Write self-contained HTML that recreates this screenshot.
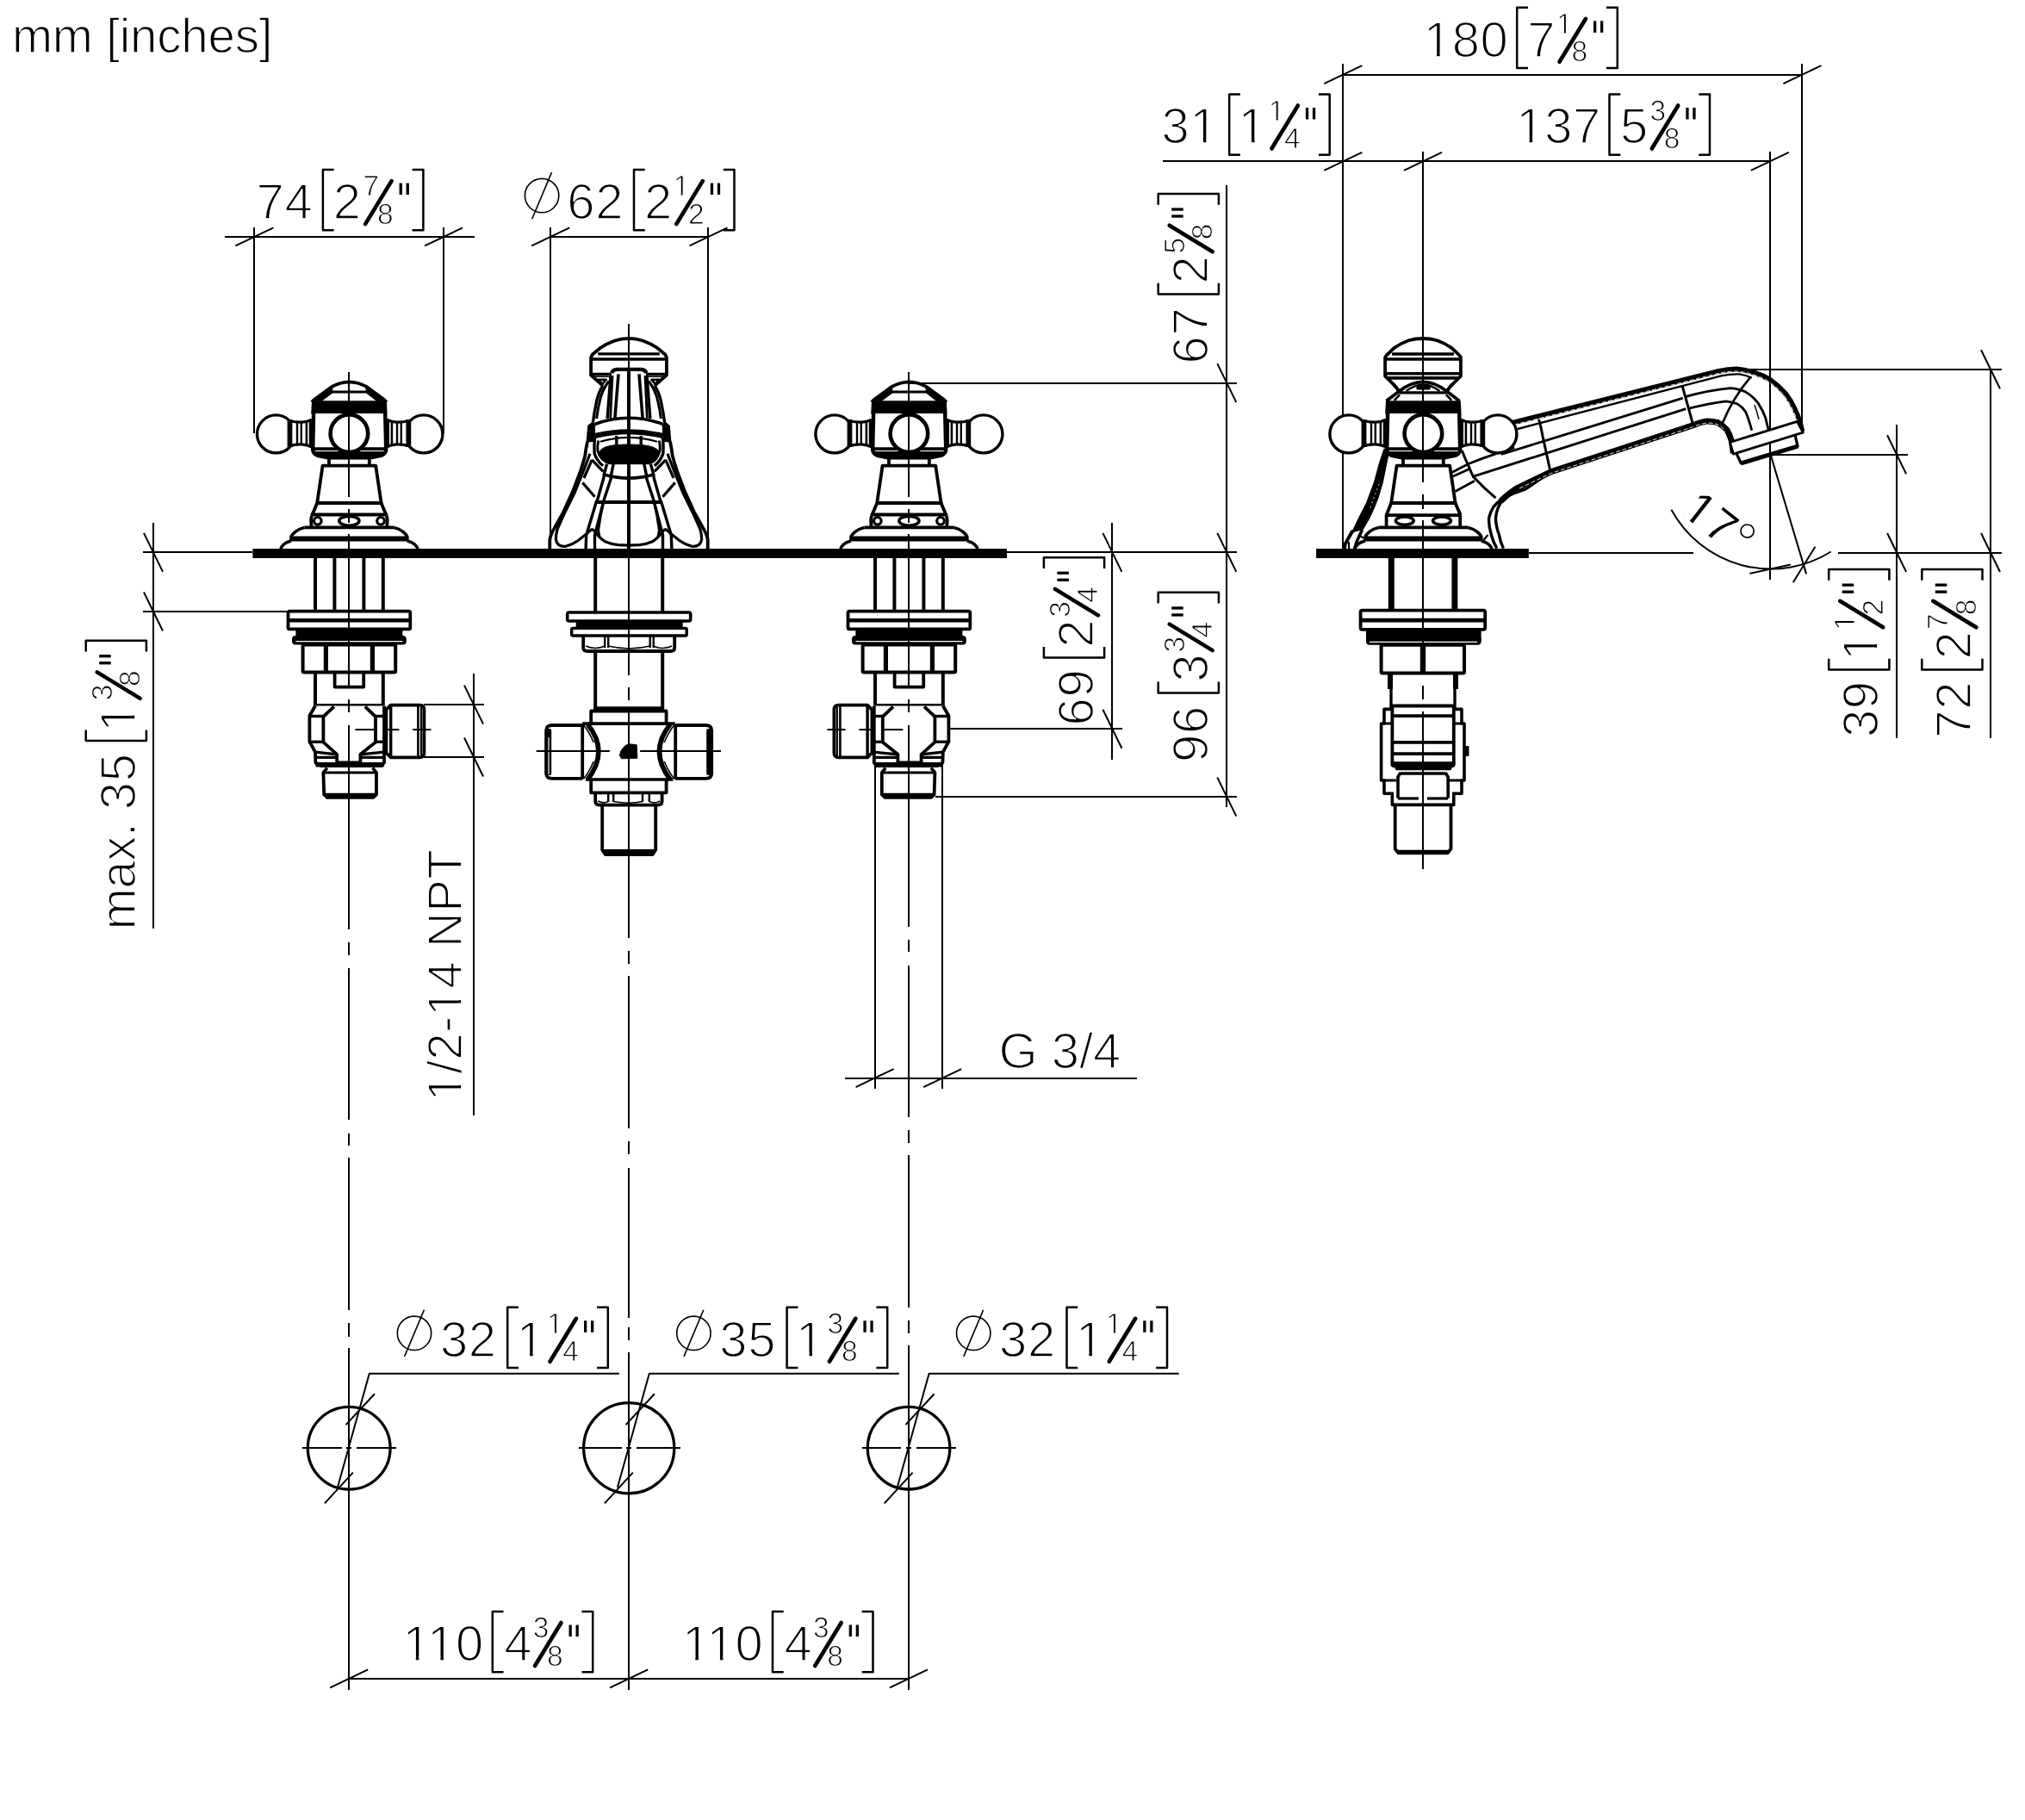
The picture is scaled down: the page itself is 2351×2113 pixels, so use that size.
<!DOCTYPE html><html><head><meta charset="utf-8"><title>drawing</title><style>html,body{margin:0;padding:0;background:#fff}svg{display:block;filter:grayscale(1)}text{font-family:"Liberation Sans",sans-serif;fill:#000;stroke-linejoin:round;text-rendering:geometricPrecision;font-kerning:normal}</style></head><body>
<svg width="2351" height="2113" viewBox="0 0 2351 2113" fill="none" stroke="#000" stroke-linejoin="round">
<rect width="2351" height="2113" fill="#fff" stroke="none"/>
<text x="14" y="61.3" font-size="56.5" letter-spacing="-0.2" stroke="#fff" stroke-width="1.4">mm [inches]</text>
<path d="M261 275L551 275" stroke-width="2"/>
<path d="M273.4 285.4L317.4 264.4" stroke-width="2"/>
<path d="M295 264L295 503" stroke-width="2"/>
<path d="M493.1 285.4L537.1 264.4" stroke-width="2"/>
<path d="M515 264L515 503" stroke-width="2"/>
<text x="297.5" y="253.9" font-size="58" letter-spacing="0.7" stroke="#fff" stroke-width="1.7">74</text>
<path d="M387.6 197.1H374.9V267.3H387.6" stroke-width="2.5"/>
<path d="M478.6 197.1H491.4V267.3H478.6" stroke-width="2.5"/>
<text x="386.8" y="253.9" font-size="58" letter-spacing="0.7" stroke="#fff" stroke-width="1.7">2</text>
<text x="421.4" y="227.1" font-size="33.5" letter-spacing="0" stroke="#fff" stroke-width="1">7</text>
<path d="M424.1 260.1L454.6 210.1" stroke-width="4.6" stroke-linecap="round"/>
<text x="438.1" y="259.6" font-size="33.5" letter-spacing="0" stroke="#fff" stroke-width="1">8</text>
<rect x="463.6" y="212.6" width="3.3" height="13.5" stroke-width="0" fill="#000"/>
<rect x="471.6" y="212.6" width="3.3" height="13.5" stroke-width="0" fill="#000"/>
<path d="M639 275L822 275" stroke-width="2"/>
<path d="M617.2 285.4L661.2 264.4" stroke-width="2"/>
<path d="M639 264L639 637" stroke-width="2"/>
<path d="M800.5 285.4L844.5 264.4" stroke-width="2"/>
<path d="M822 264L822 637" stroke-width="2"/>
<circle cx="629.1" cy="227.1" r="19.7" stroke-width="1.6"/>
<path d="M617.7 254.2L640.5 200.1" stroke-width="1.6"/>
<text x="658.3" y="253.9" font-size="58" letter-spacing="0.7" stroke="#fff" stroke-width="1.7">62</text>
<path d="M748.8 197.1H736V267.3H748.8" stroke-width="2.5"/>
<path d="M839.8 197.1H852.5V267.3H839.8" stroke-width="2.5"/>
<text x="748" y="253.9" font-size="58" letter-spacing="0.7" stroke="#fff" stroke-width="1.7">2</text>
<text x="781.7" y="227.1" font-size="33.5" letter-spacing="0" stroke="#fff" stroke-width="1">1</text>
<rect x="784.1" y="224" width="6.5" height="4.1" stroke-width="0" fill="#fff"/>
<rect x="792.7" y="224" width="6.3" height="4.1" stroke-width="0" fill="#fff"/>
<path d="M785.3 260.1L815.8 210.1" stroke-width="4.6" stroke-linecap="round"/>
<text x="799.1" y="259.6" font-size="33.5" letter-spacing="0" stroke="#fff" stroke-width="1">2</text>
<rect x="824.8" y="212.6" width="3.3" height="13.5" stroke-width="0" fill="#000"/>
<rect x="832.8" y="212.6" width="3.3" height="13.5" stroke-width="0" fill="#000"/>
<path d="M178 607L178 1078" stroke-width="2"/>
<path d="M166 641L293 641" stroke-width="2"/>
<path d="M166 710L334 710" stroke-width="2"/>
<path d="M167 618.9L189 663.9" stroke-width="2"/>
<path d="M167 687.5L189 732.5" stroke-width="2"/>
<g transform="translate(155.7 1074.9) rotate(-90)">
<text x="-4.7" y="0.8" font-size="58" letter-spacing="-0.4" stroke="#fff" stroke-width="1.7">max.</text>
<text x="134.7" y="0.8" font-size="58" letter-spacing="0.7" stroke="#fff" stroke-width="1.7">35</text>
<path d="M227.5 -56H214.8V14.2H227.5" stroke-width="2.5"/>
<path d="M318.5 -56H331.2V14.2H318.5" stroke-width="2.5"/>
<text x="225.2" y="0.8" font-size="58" letter-spacing="0.7" stroke="#fff" stroke-width="1.7">1</text>
<rect x="229.3" y="-4.2" width="11.3" height="6" stroke-width="0" fill="#fff"/>
<rect x="244.2" y="-4.2" width="10.9" height="6" stroke-width="0" fill="#fff"/>
<text x="261.7" y="-26" font-size="33.5" letter-spacing="0" stroke="#fff" stroke-width="1">3</text>
<path d="M264 7L294.5 -43" stroke-width="4.6" stroke-linecap="round"/>
<text x="278" y="6.5" font-size="33.5" letter-spacing="0" stroke="#fff" stroke-width="1">8</text>
<rect x="303.5" y="-40.5" width="3.3" height="13.5" stroke-width="0" fill="#000"/>
<rect x="311.5" y="-40.5" width="3.3" height="13.5" stroke-width="0" fill="#000"/>
</g>
<path d="M550 782L550 1295" stroke-width="2"/>
<path d="M492 818L562 818" stroke-width="2"/>
<path d="M492 879L562 879" stroke-width="2"/>
<path d="M539 795.6L561 840.6" stroke-width="2"/>
<path d="M539 856.5L561 901.5" stroke-width="2"/>
<g transform="translate(535.4 1273.4) rotate(-90)">
<text x="-5.2" y="0.8" font-size="56.5" letter-spacing="0.4" stroke="#fff" stroke-width="1.7">1/2-14 NPT</text>
<rect x="-1.2" y="-4.1" width="11.1" height="5.9" stroke-width="0" fill="#fff"/>
<rect x="13.3" y="-4.1" width="10.7" height="5.9" stroke-width="0" fill="#fff"/>
<rect x="97.8" y="-4.1" width="11.1" height="5.9" stroke-width="0" fill="#fff"/>
<rect x="112.2" y="-4.1" width="10.7" height="5.9" stroke-width="0" fill="#fff"/>
</g>
<path d="M1016 819L1016 1264" stroke-width="2"/>
<path d="M1094 819L1094 1264" stroke-width="2"/>
<path d="M981 1252L1320 1252" stroke-width="2"/>
<path d="M993.6 1262.1L1037.6 1241.1" stroke-width="2"/>
<path d="M1072.2 1262.1L1116.2 1241.1" stroke-width="2"/>
<text x="1159.5" y="1240.1" font-size="58" letter-spacing="0" stroke="#fff" stroke-width="1.7">G 3/4</text>
<path d="M1291 607L1291 882" stroke-width="2"/>
<path d="M1100 846L1303 846" stroke-width="2"/>
<path d="M1280.4 618.9L1302.4 663.9" stroke-width="2"/>
<path d="M1280.4 823.8L1302.4 868.8" stroke-width="2"/>
<g transform="translate(1267.9 838.6) rotate(-90)">
<text x="-3.8" y="0.8" font-size="58" letter-spacing="0.7" stroke="#fff" stroke-width="1.7">69</text>
<path d="M87.7 -56H75V14.2H87.7" stroke-width="2.5"/>
<path d="M178.7 -56H191.4V14.2H178.7" stroke-width="2.5"/>
<text x="86.9" y="0.8" font-size="58" letter-spacing="0.7" stroke="#fff" stroke-width="1.7">2</text>
<text x="121.9" y="-26" font-size="33.5" letter-spacing="0" stroke="#fff" stroke-width="1">3</text>
<path d="M124.2 7L154.7 -43" stroke-width="4.6" stroke-linecap="round"/>
<text x="138.9" y="6.5" font-size="33.5" letter-spacing="0" stroke="#fff" stroke-width="1">4</text>
<rect x="163.7" y="-40.5" width="3.3" height="13.5" stroke-width="0" fill="#000"/>
<rect x="171.7" y="-40.5" width="3.3" height="13.5" stroke-width="0" fill="#000"/>
</g>
<path d="M1424 215L1424 937" stroke-width="2"/>
<path d="M1055 445L1436 445" stroke-width="2"/>
<path d="M1169 641L1436 641" stroke-width="2"/>
<path d="M1086 925L1436 925" stroke-width="2"/>
<path d="M1413.3 422.1L1435.3 467.1" stroke-width="2"/>
<path d="M1413.3 618.9L1435.3 663.9" stroke-width="2"/>
<path d="M1413.3 902.6L1435.3 947.6" stroke-width="2"/>
<g transform="translate(1400.7 881.4) rotate(-90)">
<text x="-3.6" y="0.8" font-size="58" letter-spacing="0.7" stroke="#fff" stroke-width="1.7">96</text>
<path d="M89.8 -56H77V14.2H89.8" stroke-width="2.5"/>
<path d="M180.8 -56H193.6V14.2H180.8" stroke-width="2.5"/>
<text x="89.7" y="0.8" font-size="58" letter-spacing="0.7" stroke="#fff" stroke-width="1.7">3</text>
<text x="124" y="-26" font-size="33.5" letter-spacing="0" stroke="#fff" stroke-width="1">3</text>
<path d="M126.3 7L156.8 -43" stroke-width="4.6" stroke-linecap="round"/>
<text x="141" y="6.5" font-size="33.5" letter-spacing="0" stroke="#fff" stroke-width="1">4</text>
<rect x="165.8" y="-40.5" width="3.3" height="13.5" stroke-width="0" fill="#000"/>
<rect x="173.8" y="-40.5" width="3.3" height="13.5" stroke-width="0" fill="#000"/>
</g>
<g transform="translate(1400.7 418.6) rotate(-90)">
<text x="-3.8" y="0.8" font-size="58" letter-spacing="0.7" stroke="#fff" stroke-width="1.7">67</text>
<path d="M89.9 -56H77.2V14.2H89.9" stroke-width="2.5"/>
<path d="M180.9 -56H193.7V14.2H180.9" stroke-width="2.5"/>
<text x="89.1" y="0.8" font-size="58" letter-spacing="0.7" stroke="#fff" stroke-width="1.7">2</text>
<text x="124.1" y="-26" font-size="33.5" letter-spacing="0" stroke="#fff" stroke-width="1">5</text>
<path d="M126.4 7L156.9 -43" stroke-width="4.6" stroke-linecap="round"/>
<text x="140.4" y="6.5" font-size="33.5" letter-spacing="0" stroke="#fff" stroke-width="1">8</text>
<rect x="165.9" y="-40.5" width="3.3" height="13.5" stroke-width="0" fill="#000"/>
<rect x="173.9" y="-40.5" width="3.3" height="13.5" stroke-width="0" fill="#000"/>
</g>
<path d="M1559 87L2092 87" stroke-width="2"/>
<path d="M1537.3 97.1L1581.3 76.1" stroke-width="2"/>
<path d="M2070.4 97.1L2114.4 76.1" stroke-width="2"/>
<path d="M1559 74L1559 637" stroke-width="2"/>
<path d="M2092 74L2092 500" stroke-width="2"/>
<path d="M1350 187L2055 187" stroke-width="2"/>
<path d="M1537.3 197.9L1581.3 176.9" stroke-width="2"/>
<path d="M1630 197.9L1674 176.9" stroke-width="2"/>
<path d="M2032.8 197.9L2076.8 176.9" stroke-width="2"/>
<path d="M2055 176L2055 673" stroke-width="2"/>
<text x="1652.7" y="65.6" font-size="58" letter-spacing="0.7" stroke="#fff" stroke-width="1.7">180</text>
<rect x="1656.8" y="60.6" width="11.3" height="6" stroke-width="0" fill="#fff"/>
<rect x="1671.7" y="60.6" width="10.9" height="6" stroke-width="0" fill="#fff"/>
<path d="M1774 8.8H1761.2V79H1774" stroke-width="2.5"/>
<path d="M1865 8.8H1877.8V79H1865" stroke-width="2.5"/>
<text x="1773.2" y="65.6" font-size="58" letter-spacing="0.7" stroke="#fff" stroke-width="1.7">7</text>
<text x="1806.9" y="38.8" font-size="33.5" letter-spacing="0" stroke="#fff" stroke-width="1">1</text>
<rect x="1809.3" y="35.7" width="6.5" height="4.1" stroke-width="0" fill="#fff"/>
<rect x="1817.9" y="35.7" width="6.3" height="4.1" stroke-width="0" fill="#fff"/>
<path d="M1810.5 71.8L1841 21.8" stroke-width="4.6" stroke-linecap="round"/>
<text x="1824.5" y="71.3" font-size="33.5" letter-spacing="0" stroke="#fff" stroke-width="1">8</text>
<rect x="1850" y="24.3" width="3.3" height="13.5" stroke-width="0" fill="#000"/>
<rect x="1858" y="24.3" width="3.3" height="13.5" stroke-width="0" fill="#000"/>
<text x="1348.5" y="166.3" font-size="58" letter-spacing="0.7" stroke="#fff" stroke-width="1.7">31</text>
<rect x="1385.6" y="161.3" width="11.3" height="6" stroke-width="0" fill="#fff"/>
<rect x="1400.4" y="161.3" width="10.9" height="6" stroke-width="0" fill="#fff"/>
<path d="M1439.9 109.5H1427.2V179.7H1439.9" stroke-width="2.5"/>
<path d="M1530.9 109.5H1543.7V179.7H1530.9" stroke-width="2.5"/>
<text x="1437.6" y="166.3" font-size="58" letter-spacing="0.7" stroke="#fff" stroke-width="1.7">1</text>
<rect x="1441.7" y="161.3" width="11.3" height="6" stroke-width="0" fill="#fff"/>
<rect x="1456.6" y="161.3" width="10.9" height="6" stroke-width="0" fill="#fff"/>
<text x="1472.8" y="139.5" font-size="33.5" letter-spacing="0" stroke="#fff" stroke-width="1">1</text>
<rect x="1475.2" y="136.4" width="6.5" height="4.1" stroke-width="0" fill="#fff"/>
<rect x="1483.8" y="136.4" width="6.3" height="4.1" stroke-width="0" fill="#fff"/>
<path d="M1476.4 172.5L1506.9 122.5" stroke-width="4.6" stroke-linecap="round"/>
<text x="1491.1" y="172" font-size="33.5" letter-spacing="0" stroke="#fff" stroke-width="1">4</text>
<rect x="1515.9" y="125" width="3.3" height="13.5" stroke-width="0" fill="#000"/>
<rect x="1523.9" y="125" width="3.3" height="13.5" stroke-width="0" fill="#000"/>
<text x="1760.2" y="166.3" font-size="58" letter-spacing="0.7" stroke="#fff" stroke-width="1.7">137</text>
<rect x="1764.3" y="161.3" width="11.3" height="6" stroke-width="0" fill="#fff"/>
<rect x="1779.2" y="161.3" width="10.9" height="6" stroke-width="0" fill="#fff"/>
<path d="M1881.3 109.5H1868.5V179.7H1881.3" stroke-width="2.5"/>
<path d="M1972.3 109.5H1985V179.7H1972.3" stroke-width="2.5"/>
<text x="1881.1" y="166.3" font-size="58" letter-spacing="0.7" stroke="#fff" stroke-width="1.7">5</text>
<text x="1915.5" y="139.5" font-size="33.5" letter-spacing="0" stroke="#fff" stroke-width="1">3</text>
<path d="M1917.8 172.5L1948.3 122.5" stroke-width="4.6" stroke-linecap="round"/>
<text x="1931.8" y="172" font-size="33.5" letter-spacing="0" stroke="#fff" stroke-width="1">8</text>
<rect x="1957.3" y="125" width="3.3" height="13.5" stroke-width="0" fill="#000"/>
<rect x="1965.3" y="125" width="3.3" height="13.5" stroke-width="0" fill="#000"/>
<path d="M2202 493L2202 857" stroke-width="2"/>
<path d="M2311 429L2311 857" stroke-width="2"/>
<path d="M2016 429L2324 429" stroke-width="2"/>
<path d="M2055 528L2215 528" stroke-width="2"/>
<path d="M2134 642L2324 642" stroke-width="2"/>
<path d="M1775 642L1966 642" stroke-width="2"/>
<path d="M2191.1 505.3L2213.1 550.3" stroke-width="2"/>
<path d="M2191.1 619L2213.1 664" stroke-width="2"/>
<path d="M2300 406.3L2322 451.3" stroke-width="2"/>
<path d="M2300 619L2322 664" stroke-width="2"/>
<g transform="translate(2179.2 853) rotate(-90)">
<text x="-3.1" y="0.8" font-size="58" letter-spacing="0.7" stroke="#fff" stroke-width="1.7">39</text>
<path d="M88.2 -56H75.5V14.2H88.2" stroke-width="2.5"/>
<path d="M179.2 -56H191.9V14.2H179.2" stroke-width="2.5"/>
<text x="85.9" y="0.8" font-size="58" letter-spacing="0.7" stroke="#fff" stroke-width="1.7">1</text>
<rect x="90" y="-4.2" width="11.3" height="6" stroke-width="0" fill="#fff"/>
<rect x="104.9" y="-4.2" width="11" height="6" stroke-width="0" fill="#fff"/>
<text x="121.1" y="-26" font-size="33.5" letter-spacing="0" stroke="#fff" stroke-width="1">1</text>
<rect x="123.5" y="-29.1" width="6.5" height="4.1" stroke-width="0" fill="#fff"/>
<rect x="132.1" y="-29.1" width="6.3" height="4.1" stroke-width="0" fill="#fff"/>
<path d="M124.7 7L155.2 -43" stroke-width="4.6" stroke-linecap="round"/>
<text x="138.5" y="6.5" font-size="33.5" letter-spacing="0" stroke="#fff" stroke-width="1">2</text>
<rect x="164.2" y="-40.5" width="3.3" height="13.5" stroke-width="0" fill="#000"/>
<rect x="172.2" y="-40.5" width="3.3" height="13.5" stroke-width="0" fill="#000"/>
</g>
<g transform="translate(2287.3 853) rotate(-90)">
<text x="-3.8" y="0.8" font-size="58" letter-spacing="0.7" stroke="#fff" stroke-width="1.7">72</text>
<path d="M88.2 -56H75.5V14.2H88.2" stroke-width="2.5"/>
<path d="M179.2 -56H191.9V14.2H179.2" stroke-width="2.5"/>
<text x="87.4" y="0.8" font-size="58" letter-spacing="0.7" stroke="#fff" stroke-width="1.7">2</text>
<text x="122" y="-26" font-size="33.5" letter-spacing="0" stroke="#fff" stroke-width="1">7</text>
<path d="M124.7 7L155.2 -43" stroke-width="4.6" stroke-linecap="round"/>
<text x="138.7" y="6.5" font-size="33.5" letter-spacing="0" stroke="#fff" stroke-width="1">8</text>
<rect x="164.2" y="-40.5" width="3.3" height="13.5" stroke-width="0" fill="#000"/>
<rect x="172.2" y="-40.5" width="3.3" height="13.5" stroke-width="0" fill="#000"/>
</g>
<path d="M2056 529.1L2097.1 666.4" stroke-width="2"/>
<path d="M1940.4 591.7A131.5 131.5 0 0 0 2125.7 640.5" stroke-width="2"/>
<path d="M2031.4 665.8L2078.8 655.6" stroke-width="2"/>
<path d="M2081.7 676.3L2107.4 634.8" stroke-width="2"/>
<g transform="translate(1950.9 596.4) rotate(38)">
<text x="0" y="0.2" font-size="54" letter-spacing="1.5" stroke="#fff" stroke-width="0.4">17</text>
<rect x="3.8" y="-4.5" width="10" height="5.7" stroke-width="0" fill="#fff"/>
<rect x="18.2" y="-4.5" width="9.6" height="5.7" stroke-width="0" fill="#fff"/>
</g>
<circle cx="2028.6" cy="616.6" r="7.6" stroke-width="1.7"/>
<circle cx="405.2" cy="1681.2" r="47.9" stroke-width="3.3"/>
<path d="M351 1681L397 1681" stroke-width="2"/>
<path d="M402 1681L408 1681" stroke-width="2"/>
<path d="M414 1681L460 1681" stroke-width="2"/>
<path d="M391.9 1727L428.8 1594.8H718.9" stroke-width="2"/>
<path d="M401.6 1654.1L434.9 1618.3" stroke-width="2"/>
<path d="M376.9 1745.4L409.8 1709.6" stroke-width="2"/>
<circle cx="730.2" cy="1681.2" r="52.6" stroke-width="3.3"/>
<path d="M672 1681L722 1681" stroke-width="2"/>
<path d="M727 1681L733 1681" stroke-width="2"/>
<path d="M739 1681L790 1681" stroke-width="2"/>
<path d="M716.9 1727L753.8 1594.8H1043.9" stroke-width="2"/>
<path d="M726.6 1654.1L759.9 1618.3" stroke-width="2"/>
<path d="M701.9 1745.4L734.8 1709.6" stroke-width="2"/>
<circle cx="1055" cy="1681.2" r="47.8" stroke-width="3.3"/>
<path d="M1001 1681L1046 1681" stroke-width="2"/>
<path d="M1052 1681L1058 1681" stroke-width="2"/>
<path d="M1064 1681L1110 1681" stroke-width="2"/>
<path d="M1041.7 1727L1078.6 1594.8H1368.7" stroke-width="2"/>
<path d="M1051.4 1654.1L1084.7 1618.3" stroke-width="2"/>
<path d="M1026.7 1745.4L1059.6 1709.6" stroke-width="2"/>
<circle cx="481" cy="1547.8" r="19.7" stroke-width="1.6"/>
<path d="M469.6 1574.9L492.4 1520.8" stroke-width="1.6"/>
<text x="510.9" y="1574.6" font-size="58" letter-spacing="0.7" stroke="#fff" stroke-width="1.7">32</text>
<path d="M602 1517.8H589.2V1588H602" stroke-width="2.5"/>
<path d="M693 1517.8H705.8V1588H693" stroke-width="2.5"/>
<text x="599.7" y="1574.6" font-size="58" letter-spacing="0.7" stroke="#fff" stroke-width="1.7">1</text>
<rect x="603.8" y="1569.6" width="11.3" height="6" stroke-width="0" fill="#fff"/>
<rect x="618.7" y="1569.6" width="11" height="6" stroke-width="0" fill="#fff"/>
<text x="634.9" y="1547.8" font-size="33.5" letter-spacing="0" stroke="#fff" stroke-width="1">1</text>
<rect x="637.3" y="1544.7" width="6.5" height="4.1" stroke-width="0" fill="#fff"/>
<rect x="645.9" y="1544.7" width="6.3" height="4.1" stroke-width="0" fill="#fff"/>
<path d="M638.5 1580.8L669 1530.8" stroke-width="4.6" stroke-linecap="round"/>
<text x="653.2" y="1580.3" font-size="33.5" letter-spacing="0" stroke="#fff" stroke-width="1">4</text>
<rect x="678" y="1533.3" width="3.3" height="13.5" stroke-width="0" fill="#000"/>
<rect x="686" y="1533.3" width="3.3" height="13.5" stroke-width="0" fill="#000"/>
<circle cx="805.4" cy="1547.8" r="19.7" stroke-width="1.6"/>
<path d="M794 1574.9L816.8 1520.8" stroke-width="1.6"/>
<text x="835.3" y="1574.6" font-size="58" letter-spacing="0.7" stroke="#fff" stroke-width="1.7">35</text>
<path d="M926.4 1517.8H913.6V1588H926.4" stroke-width="2.5"/>
<path d="M1017.4 1517.8H1030.2V1588H1017.4" stroke-width="2.5"/>
<text x="924.1" y="1574.6" font-size="58" letter-spacing="0.7" stroke="#fff" stroke-width="1.7">1</text>
<rect x="928.2" y="1569.6" width="11.3" height="6" stroke-width="0" fill="#fff"/>
<rect x="943.1" y="1569.6" width="11" height="6" stroke-width="0" fill="#fff"/>
<text x="960.6" y="1547.8" font-size="33.5" letter-spacing="0" stroke="#fff" stroke-width="1">3</text>
<path d="M962.9 1580.8L993.4 1530.8" stroke-width="4.6" stroke-linecap="round"/>
<text x="976.9" y="1580.3" font-size="33.5" letter-spacing="0" stroke="#fff" stroke-width="1">8</text>
<rect x="1002.4" y="1533.3" width="3.3" height="13.5" stroke-width="0" fill="#000"/>
<rect x="1010.4" y="1533.3" width="3.3" height="13.5" stroke-width="0" fill="#000"/>
<circle cx="1130.2" cy="1547.8" r="19.7" stroke-width="1.6"/>
<path d="M1118.8 1574.9L1141.6 1520.8" stroke-width="1.6"/>
<text x="1160.1" y="1574.6" font-size="58" letter-spacing="0.7" stroke="#fff" stroke-width="1.7">32</text>
<path d="M1251.2 1517.8H1238.5V1588H1251.2" stroke-width="2.5"/>
<path d="M1342.2 1517.8H1355V1588H1342.2" stroke-width="2.5"/>
<text x="1248.9" y="1574.6" font-size="58" letter-spacing="0.7" stroke="#fff" stroke-width="1.7">1</text>
<rect x="1253" y="1569.6" width="11.3" height="6" stroke-width="0" fill="#fff"/>
<rect x="1267.9" y="1569.6" width="10.9" height="6" stroke-width="0" fill="#fff"/>
<text x="1284.1" y="1547.8" font-size="33.5" letter-spacing="0" stroke="#fff" stroke-width="1">1</text>
<rect x="1286.5" y="1544.7" width="6.5" height="4.1" stroke-width="0" fill="#fff"/>
<rect x="1295.1" y="1544.7" width="6.3" height="4.1" stroke-width="0" fill="#fff"/>
<path d="M1287.7 1580.8L1318.2 1530.8" stroke-width="4.6" stroke-linecap="round"/>
<text x="1302.4" y="1580.3" font-size="33.5" letter-spacing="0" stroke="#fff" stroke-width="1">4</text>
<rect x="1327.2" y="1533.3" width="3.3" height="13.5" stroke-width="0" fill="#000"/>
<rect x="1335.2" y="1533.3" width="3.3" height="13.5" stroke-width="0" fill="#000"/>
<path d="M405 1949L1055 1949" stroke-width="2"/>
<path d="M383.2 1959.3L427.2 1938.3" stroke-width="2"/>
<path d="M708.2 1959.3L752.2 1938.3" stroke-width="2"/>
<path d="M1033 1959.3L1077 1938.3" stroke-width="2"/>
<text x="467.4" y="1927.8" font-size="58" letter-spacing="0.7" stroke="#fff" stroke-width="1.7">110</text>
<rect x="471.5" y="1922.8" width="11.3" height="6" stroke-width="0" fill="#fff"/>
<rect x="486.4" y="1922.8" width="10.9" height="6" stroke-width="0" fill="#fff"/>
<rect x="500.1" y="1922.8" width="11.3" height="6" stroke-width="0" fill="#fff"/>
<rect x="515" y="1922.8" width="11" height="6" stroke-width="0" fill="#fff"/>
<path d="M584.5 1871H571.8V1941.2H584.5" stroke-width="2.5"/>
<path d="M675.5 1871H688.2V1941.2H675.5" stroke-width="2.5"/>
<text x="585.3" y="1927.8" font-size="58" letter-spacing="0.7" stroke="#fff" stroke-width="1.7">4</text>
<text x="618.7" y="1901" font-size="33.5" letter-spacing="0" stroke="#fff" stroke-width="1">3</text>
<path d="M621 1934L651.5 1884" stroke-width="4.6" stroke-linecap="round"/>
<text x="635" y="1933.5" font-size="33.5" letter-spacing="0" stroke="#fff" stroke-width="1">8</text>
<rect x="660.5" y="1886.5" width="3.3" height="13.5" stroke-width="0" fill="#000"/>
<rect x="668.5" y="1886.5" width="3.3" height="13.5" stroke-width="0" fill="#000"/>
<text x="791.9" y="1927.8" font-size="58" letter-spacing="0.7" stroke="#fff" stroke-width="1.7">110</text>
<rect x="796" y="1922.8" width="11.3" height="6" stroke-width="0" fill="#fff"/>
<rect x="810.9" y="1922.8" width="11" height="6" stroke-width="0" fill="#fff"/>
<rect x="824.6" y="1922.8" width="11.3" height="6" stroke-width="0" fill="#fff"/>
<rect x="839.5" y="1922.8" width="11" height="6" stroke-width="0" fill="#fff"/>
<path d="M909.7 1871H897V1941.2H909.7" stroke-width="2.5"/>
<path d="M1000.7 1871H1013.5V1941.2H1000.7" stroke-width="2.5"/>
<text x="910.5" y="1927.8" font-size="58" letter-spacing="0.7" stroke="#fff" stroke-width="1.7">4</text>
<text x="943.9" y="1901" font-size="33.5" letter-spacing="0" stroke="#fff" stroke-width="1">3</text>
<path d="M946.2 1934L976.7 1884" stroke-width="4.6" stroke-linecap="round"/>
<text x="960.2" y="1933.5" font-size="33.5" letter-spacing="0" stroke="#fff" stroke-width="1">8</text>
<rect x="985.7" y="1886.5" width="3.3" height="13.5" stroke-width="0" fill="#000"/>
<rect x="993.7" y="1886.5" width="3.3" height="13.5" stroke-width="0" fill="#000"/>
<path d="M405 842L405 1079" stroke-width="2"/>
<path d="M405 1094L405 1109" stroke-width="2"/>
<path d="M405 1124L405 1300" stroke-width="2"/>
<path d="M405 1316L405 1330" stroke-width="2"/>
<path d="M405 1344L405 1521" stroke-width="2"/>
<path d="M405 1536L405 1552" stroke-width="2"/>
<path d="M405 1565L405 1962" stroke-width="2"/>
<path d="M730 826L730 1089" stroke-width="2"/>
<path d="M730 1104L730 1119" stroke-width="2"/>
<path d="M730 1133L730 1310" stroke-width="2"/>
<path d="M730 1325L730 1340" stroke-width="2"/>
<path d="M730 1356L730 1530" stroke-width="2"/>
<path d="M730 1541L730 1556" stroke-width="2"/>
<path d="M730 1570L730 1962" stroke-width="2"/>
<path d="M1055 842L1055 1076" stroke-width="2"/>
<path d="M1055 1091L1055 1105" stroke-width="2"/>
<path d="M1055 1121L1055 1297" stroke-width="2"/>
<path d="M1055 1312L1055 1327" stroke-width="2"/>
<path d="M1055 1341L1055 1518" stroke-width="2"/>
<path d="M1055 1533L1055 1548" stroke-width="2"/>
<path d="M1055 1562L1055 1962" stroke-width="2"/>
<g transform="translate(405.4 0)">
<g transform="scale(-1 1)">
<circle cx="84.9" cy="503.9" r="22" stroke-width="3.4" fill="#fff"/>
<rect x="65.6" y="487.3" width="6.2" height="31.7" stroke-width="0" fill="#000"/>
<rect x="44" y="489" width="22" height="28" stroke-width="0" fill="#fff"/>
<path d="M71 488.3Q62 490.4 55 490.2Q49 489.8 43.5 487.2M71 518Q62 515.6 55 515.8Q49 516.2 43.5 518.8" stroke-width="3.2"/>
<path d="M60.4 489.5L60.4 516.5" stroke-width="2.4"/>
<path d="M55.6 489.5L55.6 516.5" stroke-width="2.4"/>
<path d="M49.5 489.5L49.5 516.5" stroke-width="2.6"/>
<rect x="43" y="487.4" width="3.6" height="31.4" stroke-width="0" fill="#000"/>
</g>
<g transform="scale(1 1)">
<circle cx="86.5" cy="503.9" r="22" stroke-width="3.4" fill="#fff"/>
<rect x="65.6" y="487.3" width="6.2" height="31.7" stroke-width="0" fill="#000"/>
<rect x="44" y="489" width="22" height="28" stroke-width="0" fill="#fff"/>
<path d="M71 488.3Q62 490.4 55 490.2Q49 489.8 43.5 487.2M71 518Q62 515.6 55 515.8Q49 516.2 43.5 518.8" stroke-width="3.2"/>
<path d="M60.4 489.5L60.4 516.5" stroke-width="2.4"/>
<path d="M55.6 489.5L55.6 516.5" stroke-width="2.4"/>
<path d="M49.5 489.5L49.5 516.5" stroke-width="2.6"/>
<rect x="43" y="487.4" width="3.6" height="31.4" stroke-width="0" fill="#000"/>
</g>
<path d="M-43.4 467L-41 464.3L-19.5 448.6Q-10 443.6 0 443.4Q10 443.6 19.5 448.6L41 464.3L43.4 467" stroke-width="3.8"/>
<path d="M-33.5 465.5L-19.5 455H20L33.5 465.5" stroke-width="2.8"/>
<path d="M-42.5 465.5L-19.5 449V455L-33.5 465.5ZM42.5 465.5L19.5 449V455L33.5 465.5Z" stroke-width="0.5" fill="#000"/>
<path d="M-43.4 465.3H43.4L44.2 480.5H-44.2Z" stroke-width="0" fill="#000"/>
<path d="M-41.3 480L-42.2 522Q-42 527 -37 528.8L-24.5 531.4H24.5L37 528.8Q42.6 527 42.8 522L41.8 480" stroke-width="4.4" fill="#fff"/>
<path d="M-42 524.6H42.6Q42 527.6 37 529.4L24.5 532.6H-24.5L-37 529.4Q-41.6 527.6 -42 524.6Z" stroke-width="1" fill="#000"/>
<path d="M-41 521.2H41.5" stroke-width="3.8"/>
<circle cx="0" cy="503.2" r="21.8" stroke-width="4.6" fill="#fff"/>
<path d="M-23.4 531L-23.4 540.5" stroke-width="3.8"/>
<path d="M23.4 531L23.4 540.5" stroke-width="3.8"/>
<path d="M-30.8 540.6H30.8L37.2 584H-37.2Z" stroke-width="3.8" fill="#fff"/>
<path d="M-37.2 584L-40.5 592L-43.6 599M37.2 584L40.5 592L43.6 599" stroke-width="3.8"/>
<path d="M-42.5 597.5L42.5 597.5" stroke-width="3.8"/>
<path d="M-43.6 599L-44.3 604L-43.8 612M43.6 599L44.3 604L43.8 612" stroke-width="3.8"/>
<circle cx="-36.6" cy="604.8" r="4.3" stroke-width="3.2"/>
<circle cx="36.6" cy="604.8" r="4.3" stroke-width="3.2"/>
<ellipse cx="0" cy="604.8" rx="11.6" ry="5.4" stroke-width="3.6"/>
<path d="M-52 612.4H52" stroke-width="3.8"/>
<path d="M-52 612.4Q-58 613.6 -62 617Q-66 620 -67.4 623V628M52 612.4Q58 613.6 62 617Q66 620 67.4 623V628" stroke-width="3.6"/>
<path d="M-67.4 625.5L67.4 625.5" stroke-width="6"/>
<path d="M-67.4 628Q-73 629.4 -76 632Q-78.6 634.6 -79.6 637.2M67.4 628Q73 629.4 76 632Q78.6 634.6 79.6 637.2" stroke-width="3.6"/>
</g>
<g transform="translate(1055.4 0)">
<g transform="scale(-1 1)">
<circle cx="86.5" cy="503.9" r="22" stroke-width="3.4" fill="#fff"/>
<rect x="65.6" y="487.3" width="6.2" height="31.7" stroke-width="0" fill="#000"/>
<rect x="44" y="489" width="22" height="28" stroke-width="0" fill="#fff"/>
<path d="M71 488.3Q62 490.4 55 490.2Q49 489.8 43.5 487.2M71 518Q62 515.6 55 515.8Q49 516.2 43.5 518.8" stroke-width="3.2"/>
<path d="M60.4 489.5L60.4 516.5" stroke-width="2.4"/>
<path d="M55.6 489.5L55.6 516.5" stroke-width="2.4"/>
<path d="M49.5 489.5L49.5 516.5" stroke-width="2.6"/>
<rect x="43" y="487.4" width="3.6" height="31.4" stroke-width="0" fill="#000"/>
</g>
<g transform="scale(1 1)">
<circle cx="86.5" cy="503.9" r="22" stroke-width="3.4" fill="#fff"/>
<rect x="65.6" y="487.3" width="6.2" height="31.7" stroke-width="0" fill="#000"/>
<rect x="44" y="489" width="22" height="28" stroke-width="0" fill="#fff"/>
<path d="M71 488.3Q62 490.4 55 490.2Q49 489.8 43.5 487.2M71 518Q62 515.6 55 515.8Q49 516.2 43.5 518.8" stroke-width="3.2"/>
<path d="M60.4 489.5L60.4 516.5" stroke-width="2.4"/>
<path d="M55.6 489.5L55.6 516.5" stroke-width="2.4"/>
<path d="M49.5 489.5L49.5 516.5" stroke-width="2.6"/>
<rect x="43" y="487.4" width="3.6" height="31.4" stroke-width="0" fill="#000"/>
</g>
<path d="M-43.4 467L-41 464.3L-19.5 448.6Q-10 443.6 0 443.4Q10 443.6 19.5 448.6L41 464.3L43.4 467" stroke-width="3.8"/>
<path d="M-33.5 465.5L-19.5 455H20L33.5 465.5" stroke-width="2.8"/>
<path d="M-42.5 465.5L-19.5 449V455L-33.5 465.5ZM42.5 465.5L19.5 449V455L33.5 465.5Z" stroke-width="0.5" fill="#000"/>
<path d="M-43.4 465.3H43.4L44.2 480.5H-44.2Z" stroke-width="0" fill="#000"/>
<path d="M-41.3 480L-42.2 522Q-42 527 -37 528.8L-24.5 531.4H24.5L37 528.8Q42.6 527 42.8 522L41.8 480" stroke-width="4.4" fill="#fff"/>
<path d="M-42 524.6H42.6Q42 527.6 37 529.4L24.5 532.6H-24.5L-37 529.4Q-41.6 527.6 -42 524.6Z" stroke-width="1" fill="#000"/>
<path d="M-41 521.2H41.5" stroke-width="3.8"/>
<circle cx="0" cy="503.2" r="21.8" stroke-width="4.6" fill="#fff"/>
<path d="M-23.4 531L-23.4 540.5" stroke-width="3.8"/>
<path d="M23.4 531L23.4 540.5" stroke-width="3.8"/>
<path d="M-30.8 540.6H30.8L37.2 584H-37.2Z" stroke-width="3.8" fill="#fff"/>
<path d="M-37.2 584L-40.5 592L-43.6 599M37.2 584L40.5 592L43.6 599" stroke-width="3.8"/>
<path d="M-42.5 597.5L42.5 597.5" stroke-width="3.8"/>
<path d="M-43.6 599L-44.3 604L-43.8 612M43.6 599L44.3 604L43.8 612" stroke-width="3.8"/>
<circle cx="-36.6" cy="604.8" r="4.3" stroke-width="3.2"/>
<circle cx="36.6" cy="604.8" r="4.3" stroke-width="3.2"/>
<ellipse cx="0" cy="604.8" rx="11.6" ry="5.4" stroke-width="3.6"/>
<path d="M-52 612.4H52" stroke-width="3.8"/>
<path d="M-52 612.4Q-58 613.6 -62 617Q-66 620 -67.4 623V628M52 612.4Q58 613.6 62 617Q66 620 67.4 623V628" stroke-width="3.6"/>
<path d="M-67.4 625.5L67.4 625.5" stroke-width="6"/>
<path d="M-67.4 628Q-73 629.4 -76 632Q-78.6 634.6 -79.6 637.2M67.4 628Q73 629.4 76 632Q78.6 634.6 79.6 637.2" stroke-width="3.6"/>
</g>
<g transform="translate(730 0)">
<g transform="scale(-1 1)">
<path d="M0 392.8Q9 392.8 16.8 395.7Q26 399 32.8 403.8L42.4 411.7L43.9 415V435.5L30 447.8" stroke-width="3.8"/>
<path d="M35.4 440.9H26.4L30.7 446Z" stroke-width="2.6"/>
<path d="M30 447.8Q34.5 454 37.2 465Q40 478 41.6 490.4" stroke-width="3.4"/>
<path d="M23.1 442.5Q29 450 32.6 461Q36 474 37.4 486" stroke-width="3"/>
<path d="M21 436L24.9 486" stroke-width="3.4"/>
<path d="M19 436L21.3 485.6" stroke-width="2.8"/>
<path d="M12 434.3L16.1 485.6" stroke-width="3.6"/>
<path d="M42 490.4L46.8 494.4L48.4 512.6L40.4 512L39.8 494Z" stroke-width="2" fill="#000"/>
<path d="M39.5 508.2Q40.5 518 39.8 526.7Q37 535 29.8 540.8" stroke-width="3.4"/>
<path d="M35.2 511.5Q36.8 518 36 523.5Q34 530 29.8 534.3" stroke-width="3"/>
<path d="M14.2 506L14.2 516" stroke-width="3.4"/>
<path d="M25.4 538.7L28.7 550.6L29.2 555L36.3 580L37.9 583.2L49.3 621.2L49.9 637" stroke-width="3.4"/>
<path d="M17.8 538.7L20.5 551.7V555L28.7 580L29.8 584.3L39.5 621.2V637" stroke-width="3.4"/>
<path d="M42.8 533.8L29.8 547.4M52 555L42.8 533.8M53.7 560.4L39.5 576.7" stroke-width="3.2"/>
<path d="M48 512.6Q50 522 50.7 528.9Q53 538 56.2 547.4L64.9 570.2L75.7 594.1L86.6 613.6Q91 621 91.7 626.7V637" stroke-width="3.8"/>
<path d="M45 526.7L53.7 549.5L63.4 573.4L74.3 595.2L83 614.7Q84.8 621 84.6 626.7Q83.6 630.5 81.9 632.1Q78 635 73.2 634.3Q65 632 59.1 627.7L49.3 620.1Q45.5 616 42.8 614.7Q41 615 39.5 616.9L35.2 622.3Q31.5 626 27.6 628.8Q20 632 12.4 632.6L0 633.2" stroke-width="3.2"/>
<path d="M29.8 584.3Q33.5 600 35.4 615.8L34.1 623" stroke-width="3"/>
</g>
<g transform="scale(1 1)">
<path d="M0 392.8Q9 392.8 16.8 395.7Q26 399 32.8 403.8L42.4 411.7L43.9 415V435.5L30 447.8" stroke-width="3.8"/>
<path d="M35.4 440.9H26.4L30.7 446Z" stroke-width="2.6"/>
<path d="M30 447.8Q34.5 454 37.2 465Q40 478 41.6 490.4" stroke-width="3.4"/>
<path d="M23.1 442.5Q29 450 32.6 461Q36 474 37.4 486" stroke-width="3"/>
<path d="M21 436L24.9 486" stroke-width="3.4"/>
<path d="M19 436L21.3 485.6" stroke-width="2.8"/>
<path d="M12 434.3L16.1 485.6" stroke-width="3.6"/>
<path d="M42 490.4L46.8 494.4L48.4 512.6L40.4 512L39.8 494Z" stroke-width="2" fill="#000"/>
<path d="M39.5 508.2Q40.5 518 39.8 526.7Q37 535 29.8 540.8" stroke-width="3.4"/>
<path d="M35.2 511.5Q36.8 518 36 523.5Q34 530 29.8 534.3" stroke-width="3"/>
<path d="M14.2 506L14.2 516" stroke-width="3.4"/>
<path d="M25.4 538.7L28.7 550.6L29.2 555L36.3 580L37.9 583.2L49.3 621.2L49.9 637" stroke-width="3.4"/>
<path d="M17.8 538.7L20.5 551.7V555L28.7 580L29.8 584.3L39.5 621.2V637" stroke-width="3.4"/>
<path d="M42.8 533.8L29.8 547.4M52 555L42.8 533.8M53.7 560.4L39.5 576.7" stroke-width="3.2"/>
<path d="M48 512.6Q50 522 50.7 528.9Q53 538 56.2 547.4L64.9 570.2L75.7 594.1L86.6 613.6Q91 621 91.7 626.7V637" stroke-width="3.8"/>
<path d="M45 526.7L53.7 549.5L63.4 573.4L74.3 595.2L83 614.7Q84.8 621 84.6 626.7Q83.6 630.5 81.9 632.1Q78 635 73.2 634.3Q65 632 59.1 627.7L49.3 620.1Q45.5 616 42.8 614.7Q41 615 39.5 616.9L35.2 622.3Q31.5 626 27.6 628.8Q20 632 12.4 632.6L0 633.2" stroke-width="3.2"/>
<path d="M29.8 584.3Q33.5 600 35.4 615.8L34.1 623" stroke-width="3"/>
</g>
<path d="M-35.8 410.8L35.8 410.8" stroke-width="3.2"/>
<path d="M-43.5 417L43.5 417" stroke-width="3.6"/>
<path d="M-42 434.5H-20M20 434.5H42" stroke-width="3.4"/>
<path d="M-43 437.2H-21M21 437.2H43" stroke-width="1.4"/>
<path d="M-20 433Q-18.5 429 -14 428.9H14.5Q19 429 20.4 433" stroke-width="4.4"/>
<path d="M-39.6 492.5Q0 478 39.6 492.5" stroke-width="3.6"/>
<path d="M-39.6 506Q0 496.4 39.6 506" stroke-width="6"/>
<path d="M-33 512.8Q0 503 33 512.8" stroke-width="2.2"/>
<path d="M-34.2 526Q-33 518 -14 516.4Q0 515.5 14 516.4Q34 518 35.4 526Q34 536 24 538.7H-23Q-33 536 -34.2 526Z" stroke-width="1" fill="#000"/>
<path d="M-27.6 551.2Q0 559 27.8 551.2" stroke-width="3.6"/>
<path d="M-38.5 583L38.7 583" stroke-width="3.8"/>
<path d="M0 431L0 637" stroke-width="4"/>
</g>
<g transform="translate(405.4 0) scale(1 1)">
<path d="M-39.4 648L-39.4 709" stroke-width="4"/>
<path d="M-17 648L-17 709" stroke-width="4"/>
<path d="M17 648L17 709" stroke-width="4"/>
<path d="M39.4 648L39.4 709" stroke-width="4"/>
<rect x="-70.9" y="709.6" width="141.8" height="20.8" stroke-width="3.8" rx="2" fill="#fff"/>
<path d="M-70 720.2L70 720.2" stroke-width="4.6"/>
<rect x="-62" y="730.8" width="124" height="12.6" stroke-width="0" fill="#000"/>
<rect x="-66.4" y="738" width="132.8" height="10.6" stroke-width="0" rx="4" fill="#000"/>
<path d="M-62 744.6H62" stroke-width="1.2" stroke="#fff"/>
<rect x="-53.8" y="748.6" width="107.6" height="32" stroke-width="4" rx="1.5" fill="#fff"/>
<path d="M-27 749L-27 780" stroke-width="5.2"/>
<path d="M27 749L27 780" stroke-width="5.2"/>
<path d="M-39.4 781L-39.4 819" stroke-width="4"/>
<path d="M39.4 781L39.4 819" stroke-width="4"/>
<path d="M-16.8 781V797.6H16.8V781" stroke-width="3.8"/>
<path d="M-39.4 818.8L39.4 818.8" stroke-width="3.8"/>
<path d="M-39.4 819.5L-46 831V861L-39.4 873.2L-39 885.5L-32.5 889H37.5L40.6 885.5V819.5" stroke-width="3.8" fill="#fff"/>
<path d="M-17.6 820.4L-30 832V861.7L-14.2 875.8V885.5H13V875.8L30.6 861.7V832L18.4 820.4" stroke-width="3.8"/>
<path d="M-46 831.5L-30 831.5" stroke-width="3.4"/>
<path d="M-46 861.3L-30 861.3" stroke-width="3.4"/>
<path d="M30.6 831.5L40.6 831.5" stroke-width="3.4"/>
<path d="M30.6 861.3L40.6 861.3" stroke-width="3.4"/>
<path d="M-39.4 873.2L-14.2 875.8M-39 879.3H-14.2M40.6 873.2L13 875.8M40.6 879.3H13" stroke-width="3.2"/>
<rect x="-39" y="885" width="79.6" height="5.6" stroke-width="0" rx="1.5" fill="#000"/>
<path d="M43 823.9L48.3 818.7H81.7Q87 818.7 87 823.9V874Q87 879.3 81.7 879.3H48.3L43 874Z" stroke-width="3.8" fill="#fff"/>
<path d="M48.3 819L48.3 879" stroke-width="3.4"/>
<path d="M80 819L80 879" stroke-width="2.6"/>
<path d="M83.6 821L83.6 877" stroke-width="2.2"/>
<path d="M7 847.1L29 847.1" stroke-width="2"/>
<path d="M43 847.1L58 847.1" stroke-width="2"/>
<path d="M73.8 847.1L95 847.1" stroke-width="2"/>
<path d="M-25.6 891.6L-30 896.9L-29.2 922.4L-25.6 925.9H28L31.6 922.4V896.9L27.2 891.6" stroke-width="3.8" fill="#fff"/>
<path d="M-29 897L31 897" stroke-width="3.2"/>
<path d="M-29 922.4L31 922.4" stroke-width="3.2"/>
</g>
<g transform="translate(1055.4 0) scale(-1 1)">
<path d="M-39.4 648L-39.4 709" stroke-width="4"/>
<path d="M-17 648L-17 709" stroke-width="4"/>
<path d="M17 648L17 709" stroke-width="4"/>
<path d="M39.4 648L39.4 709" stroke-width="4"/>
<rect x="-70.9" y="709.6" width="141.8" height="20.8" stroke-width="3.8" rx="2" fill="#fff"/>
<path d="M-70 720.2L70 720.2" stroke-width="4.6"/>
<rect x="-62" y="730.8" width="124" height="12.6" stroke-width="0" fill="#000"/>
<rect x="-66.4" y="738" width="132.8" height="10.6" stroke-width="0" rx="4" fill="#000"/>
<path d="M-62 744.6H62" stroke-width="1.2" stroke="#fff"/>
<rect x="-53.8" y="748.6" width="107.6" height="32" stroke-width="4" rx="1.5" fill="#fff"/>
<path d="M-27 749L-27 780" stroke-width="5.2"/>
<path d="M27 749L27 780" stroke-width="5.2"/>
<path d="M-39.4 781L-39.4 819" stroke-width="4"/>
<path d="M39.4 781L39.4 819" stroke-width="4"/>
<path d="M-16.8 781V797.6H16.8V781" stroke-width="3.8"/>
<path d="M-39.4 818.8L39.4 818.8" stroke-width="3.8"/>
<path d="M-39.4 819.5L-46 831V861L-39.4 873.2L-39 885.5L-32.5 889H37.5L40.6 885.5V819.5" stroke-width="3.8" fill="#fff"/>
<path d="M-17.6 820.4L-30 832V861.7L-14.2 875.8V885.5H13V875.8L30.6 861.7V832L18.4 820.4" stroke-width="3.8"/>
<path d="M-46 831.5L-30 831.5" stroke-width="3.4"/>
<path d="M-46 861.3L-30 861.3" stroke-width="3.4"/>
<path d="M30.6 831.5L40.6 831.5" stroke-width="3.4"/>
<path d="M30.6 861.3L40.6 861.3" stroke-width="3.4"/>
<path d="M-39.4 873.2L-14.2 875.8M-39 879.3H-14.2M40.6 873.2L13 875.8M40.6 879.3H13" stroke-width="3.2"/>
<rect x="-39" y="885" width="79.6" height="5.6" stroke-width="0" rx="1.5" fill="#000"/>
<path d="M43 823.9L48.3 818.7H81.7Q87 818.7 87 823.9V874Q87 879.3 81.7 879.3H48.3L43 874Z" stroke-width="3.8" fill="#fff"/>
<path d="M48.3 819L48.3 879" stroke-width="3.4"/>
<path d="M80 819L80 879" stroke-width="2.6"/>
<path d="M83.6 821L83.6 877" stroke-width="2.2"/>
<path d="M7 847.1L29 847.1" stroke-width="2"/>
<path d="M43 847.1L58 847.1" stroke-width="2"/>
<path d="M73.8 847.1L95 847.1" stroke-width="2"/>
<path d="M-25.6 891.6L-30 896.9L-29.2 922.4L-25.6 925.9H28L31.6 922.4V896.9L27.2 891.6" stroke-width="3.8" fill="#fff"/>
<path d="M-29 897L31 897" stroke-width="3.2"/>
<path d="M-29 922.4L31 922.4" stroke-width="3.2"/>
</g>
<g transform="translate(730.2 0)">
<path d="M-39 648L-39 711" stroke-width="4"/>
<path d="M39 648L39 711" stroke-width="4"/>
<rect x="-71.5" y="711" width="143" height="10" stroke-width="3.6" rx="2" fill="#fff"/>
<rect x="-61.5" y="721" width="124" height="8" stroke-width="0" fill="#000"/>
<rect x="-66.5" y="729.4" width="133.5" height="8.6" stroke-width="3.4" rx="1.5" fill="#fff"/>
<path d="M-53 738V752Q-53 756 -48 756H48Q53 756 53 752V738" stroke-width="3.8"/>
<path d="M-28 738L-28 752" stroke-width="2.4"/>
<path d="M-24 738L-24 752" stroke-width="2.4"/>
<path d="M24.5 738L24.5 752" stroke-width="2.4"/>
<path d="M28.5 738L28.5 752" stroke-width="2.4"/>
<path d="M-50 750Q-39 755 -28 750M-24 750Q0 756 24.5 750M28.5 750Q39 755 50 750" stroke-width="1.6"/>
<path d="M-39 756L-39 823" stroke-width="4"/>
<path d="M39 756L39 823" stroke-width="4"/>
<rect x="-41" y="820.3" width="81.3" height="6.1" stroke-width="0" fill="#000"/>
<path d="M-44 840V825.5H43.4V840" stroke-width="3.8"/>
<path d="M-54 840.1L53.5 840.1" stroke-width="3.6"/>
<path d="M-50.3 905L51.3 905" stroke-width="3.6"/>
<g transform="scale(-1 1)">
<path d="M54 842H89Q96 842 96 848V898Q96 903.8 89 903.8H54" stroke-width="3.8"/>
<path d="M54 841L54 904.6" stroke-width="3.8"/>
<rect x="90" y="846" width="7.6" height="54" stroke-width="0" rx="2" fill="#000"/>
<path d="M47.9 841Q22.7 872 47.9 905" stroke-width="5.6"/>
<path d="M52.5 842Q46 850 41 862" stroke-width="1.6"/>
<path d="M52.5 904Q46 896 41 884" stroke-width="1.6"/>
</g>
<g transform="scale(1 1)">
<path d="M54 842H89Q96 842 96 848V898Q96 903.8 89 903.8H54" stroke-width="3.8"/>
<path d="M54 841L54 904.6" stroke-width="3.8"/>
<rect x="90" y="846" width="7.6" height="54" stroke-width="0" rx="2" fill="#000"/>
<path d="M47.9 841Q22.7 872 47.9 905" stroke-width="5.6"/>
<path d="M52.5 842Q46 850 41 862" stroke-width="1.6"/>
<path d="M52.5 904Q46 896 41 884" stroke-width="1.6"/>
</g>
<path d="M-93.2 856L-93.2 899" stroke-width="1.2" stroke="#fff"/>
<path d="M-107.5 872L-22.3 872" stroke-width="2"/>
<path d="M12.9 872L106.8 872" stroke-width="2"/>
<path d="M-10.8 876.9L-9.1 871.4L-4.7 865.9L-0.3 863.7L9 864.8L9.6 880.2L-8.6 880.8Z" stroke-width="1" fill="#000"/>
<path d="M-44 905V920.3H43.4V905" stroke-width="3.8"/>
<path d="M-39 920.3V930Q-39 934.6 -34 934.6H33.5Q38.4 934.6 38.4 930V920.3" stroke-width="3.8"/>
<path d="M-24 921L-24 931" stroke-width="2.4"/>
<path d="M-18 921L-18 931" stroke-width="2.4"/>
<path d="M15.8 921L15.8 931" stroke-width="2.4"/>
<path d="M23.6 921L23.6 931" stroke-width="2.4"/>
<path d="M-36 930Q-30 933.5 -24 930.5M-18 930.5Q0 934 15.8 930.5M23.6 930.5Q30 933.5 36 930" stroke-width="1.6"/>
<path d="M-31 934.6V986.8L-27.5 992H27.5L31 986.8V934.6" stroke-width="3.8"/>
<path d="M-31 986.8L-27.5 993H27.5L31 986.8Z" stroke-width="1.5" fill="#000"/>
</g>
<path d="M1752 491.8L1994.7 431.1Q2006 428.4 2016 428.4Q2028 429.5 2037.3 432.9Q2047 436 2055.1 440.9Q2065 448 2072.9 456.9Q2079 465 2083.6 474.7Q2087.5 483 2089.8 490.7L2092.4 501.3" stroke-width="6"/>
<path d="M1758 493L1995 433.4Q2006 431 2016 431Q2028 432 2037 435.4Q2047 438.6 2054 443.3Q2064 450.5 2071 458.5Q2077 466.5 2081.4 475.6Q2085 483.5 2087.4 491.3" stroke-width="0.9" stroke="#fff" stroke-dasharray="5 2.5"/>
<path d="M1762 498L1998.2 436.4Q2009 434 2019.6 434.4Q2027 435.6 2033.8 438.6" stroke-width="2.4"/>
<path d="M1743 527.5L1953.8 462.2" stroke-width="2.8"/>
<path d="M1957.3 460.4Q1985 453 2008.9 450.7Q2019 451.5 2026.7 455.1Q2035 460 2040.9 467.6Q2046.5 476 2049.8 485.3L2053.3 499.6" stroke-width="2.8"/>
<path d="M1709 553.6L1760 537.4L1957.3 474.6" stroke-width="2.8"/>
<path d="M1961.8 473.8Q1984 468.5 2003.6 465.8Q2012 466.5 2017.8 469.3Q2023.5 473 2026.7 478.2Q2030.5 487 2033.8 499.6" stroke-width="2.8"/>
<path d="M1737.7 636.6Q1733 628 1731.3 620.5Q1728 610 1728.7 601.2Q1730.5 594 1733.9 588.4Q1739 582.5 1745.4 578.1Q1757 572.5 1771.1 567.9L1800.9 547.6" stroke-width="3.4"/>
<path d="M1742 582Q1750 574 1760 567.3L1800.9 547.6L1964.4 494.2Q1974 490 1982.2 488.9Q1989 489 1994.7 490.7Q2001 494.5 2005.3 499.6Q2009 506.5 2010.7 513.8L2012.4 526.2" stroke-width="7"/>
<path d="M1745.4 636.6Q1741.5 628 1740.3 620.5Q1736.5 610 1736.5 601.2Q1737.5 590 1744 581" stroke-width="3.4"/>
<path d="M1764 567L1800.9 549.4L1964.4 496Q1974 492 1982 491Q1989 491 1994 492.8Q2000 496 2003.4 501" stroke-width="0.9" stroke="#fff" stroke-dasharray="5 2.5"/>
<path d="M1786.7 487.1Q1789.5 497 1791.1 506.7L1800 547.6" stroke-width="3"/>
<path d="M1952.9 447.1L1966.2 495.1" stroke-width="3"/>
<path d="M2032 438.2Q2012 462 2000 490.7" stroke-width="2.6"/>
<path d="M2037 470Q2040 478 2042 487" stroke-width="1.4"/>
<path d="M1685.7 548.6Q1696 543 1705.6 538.3Q1722 531.5 1736.5 526.8L1758.3 519.7" stroke-width="2.8"/>
<path d="M1687 553L1707 544" stroke-width="2.8"/>
<path d="M1689.6 570.4L1712 558.2" stroke-width="2.8"/>
<path d="M1697.3 522.9Q1701 533 1705.6 542.2Q1708 549 1710.8 553.7Q1722 566 1736.5 578.1" stroke-width="3"/>
<path d="M2008.5 513.5L2086.5 489.3L2093.3 502.2L2012.4 527.1Z" stroke-width="2.8" fill="#fff"/>
<path d="M2016 526.5L2021.3 537.8L2087.1 518.2L2084 505" stroke-width="3.2"/>
<path d="M2021.3 537.8L2087.1 518.2" stroke-width="5"/>
<path d="M1607 521L1601.6 537L1595.4 560L1586.5 583.7L1578.2 600L1569.5 618L1582.5 614.5L1590 601.5L1596 588.4L1600.1 577.8L1605.4 560L1610 537L1613 523Z" stroke-width="1" fill="#000"/>
<path d="M1601 562L1589.5 593" stroke-width="1" stroke="#fff" stroke-dasharray="1.5 4"/>
<path d="M1570.5 616L1561.5 632L1561 637" stroke-width="4"/>
<path d="M1581.5 615L1575.5 628L1572.5 637" stroke-width="3.6"/>
<path d="M1566 629V637M1577 621L1584.9 625.6M1727.5 621L1722.5 627" stroke-width="2.2"/>
<g transform="translate(1652 0)">
<g transform="scale(-1 1)">
<path d="M0 393Q9 393 16.5 395.2Q26 398.5 33.6 404.1L42.4 412.6L43.9 415V436.7L35.5 445Q30 450 28 454.5L42.4 465.6" stroke-width="3.8"/>
<path d="M33.2 464.8L26.9 458.1" stroke-width="2.6"/>
</g>
<g transform="scale(1 1)">
<path d="M0 393Q9 393 16.5 395.2Q26 398.5 33.6 404.1L42.4 412.6L43.9 415V436.7L35.5 445Q30 450 28 454.5L42.4 465.6" stroke-width="3.8"/>
<path d="M33.2 464.8L26.9 458.1" stroke-width="2.6"/>
</g>
<path d="M-35.9 411.1L35.9 411.1" stroke-width="3.5"/>
<path d="M-43 417L43 417" stroke-width="3.5"/>
<path d="M-43 433.7L43 433.7" stroke-width="3.4"/>
<path d="M-42 438.9L42 438.9" stroke-width="3.6"/>
<path d="M-28 454.5Q-14 443.4 0 443.4Q14 443.4 28 454.5" stroke-width="3.6"/>
<path d="M-19.5 454Q-9 446.6 0 446.5Q9 446.6 19.5 454" stroke-width="2.4"/>
<path d="M-27.6 455.9L27.9 455.9" stroke-width="3.3"/>
<rect x="-7.6" y="446.6" width="16.3" height="6" stroke-width="0" rx="1.5" fill="#000"/>
</g>
<g transform="translate(1652.4 0)">
<g transform="scale(-1 1)">
<circle cx="86.5" cy="503.9" r="22" stroke-width="3.4" fill="#fff"/>
<rect x="65.6" y="487.3" width="6.2" height="31.7" stroke-width="0" fill="#000"/>
<rect x="44" y="489" width="22" height="28" stroke-width="0" fill="#fff"/>
<path d="M71 488.3Q62 490.4 55 490.2Q49 489.8 43.5 487.2M71 518Q62 515.6 55 515.8Q49 516.2 43.5 518.8" stroke-width="3.2"/>
<path d="M60.4 489.5L60.4 516.5" stroke-width="2.4"/>
<path d="M55.6 489.5L55.6 516.5" stroke-width="2.4"/>
<path d="M49.5 489.5L49.5 516.5" stroke-width="2.6"/>
<rect x="43" y="487.4" width="3.6" height="31.4" stroke-width="0" fill="#000"/>
</g>
<g transform="scale(1 1)">
<circle cx="86.5" cy="503.9" r="22" stroke-width="3.4" fill="#fff"/>
<rect x="65.6" y="487.3" width="6.2" height="31.7" stroke-width="0" fill="#000"/>
<rect x="44" y="489" width="22" height="28" stroke-width="0" fill="#fff"/>
<path d="M71 488.3Q62 490.4 55 490.2Q49 489.8 43.5 487.2M71 518Q62 515.6 55 515.8Q49 516.2 43.5 518.8" stroke-width="3.2"/>
<path d="M60.4 489.5L60.4 516.5" stroke-width="2.4"/>
<path d="M55.6 489.5L55.6 516.5" stroke-width="2.4"/>
<path d="M49.5 489.5L49.5 516.5" stroke-width="2.6"/>
<rect x="43" y="487.4" width="3.6" height="31.4" stroke-width="0" fill="#000"/>
</g>
<path d="M-43.4 465.3H43.4L44.2 480.5H-44.2Z" stroke-width="0" fill="#000"/>
<path d="M-41.3 480L-42.2 522Q-42 527 -37 528.8L-24.5 531.4H24.5L37 528.8Q42.6 527 42.8 522L41.8 480" stroke-width="4.4" fill="#fff"/>
<path d="M-42 524.6H42.6Q42 527.6 37 529.4L24.5 532.6H-24.5L-37 529.4Q-41.6 527.6 -42 524.6Z" stroke-width="1" fill="#000"/>
<path d="M-41 521.2H41.5" stroke-width="3.8"/>
<circle cx="0" cy="503.2" r="21.8" stroke-width="4.6" fill="#fff"/>
<path d="M-23.4 531L-23.4 540.5" stroke-width="3.8"/>
<path d="M23.4 531L23.4 540.5" stroke-width="3.8"/>
<path d="M-30.8 540.6H30.8L37.2 584H-37.2Z" stroke-width="3.8" fill="#fff"/>
<path d="M-37.2 584L-42.8 598.2V612M37.2 584L42.8 597V612" stroke-width="3.8"/>
<path d="M-42.8 598.2L42.8 598.2" stroke-width="3.8"/>
<ellipse cx="-21.6" cy="604.6" rx="10.4" ry="4.6" stroke-width="3.6"/>
<ellipse cx="21.6" cy="604.6" rx="10.4" ry="4.6" stroke-width="3.6"/>
<path d="M-52 612.4H52" stroke-width="3.8"/>
<path d="M-52 612.4Q-58 613.6 -62 617Q-66 620 -67.4 623V628M52 612.4Q58 613.6 62 617Q66 620 67.4 623V628" stroke-width="3.6"/>
<path d="M-67.4 625.5L67.4 625.5" stroke-width="6"/>
<path d="M-67.4 628Q-73 629.4 -76 632Q-78.6 634.6 -79.6 637.2M67.4 628Q73 629.4 76 632Q78.6 634.6 79.6 637.2" stroke-width="3.6"/>
</g>
<g transform="translate(1652 0)">
<path d="M-36.7 648L-36.7 708" stroke-width="7"/>
<path d="M36.9 648L36.9 708" stroke-width="7"/>
<rect x="-72.4" y="708.6" width="144.6" height="22.2" stroke-width="3.8" rx="2" fill="#fff"/>
<path d="M-71 720.1L71 720.1" stroke-width="4.6"/>
<rect x="-66" y="731" width="133.6" height="13.4" stroke-width="0" fill="#000"/>
<rect x="-66" y="738" width="133.6" height="10.8" stroke-width="0" rx="4" fill="#000"/>
<path d="M-62 745.3H63" stroke-width="1.2" stroke="#fff"/>
<rect x="-48.4" y="748.8" width="96.4" height="32.8" stroke-width="4" rx="1.5" fill="#fff"/>
<path d="M0 749L0 781" stroke-width="6.4"/>
<path d="M-38 782L-38 800" stroke-width="6"/>
<path d="M38 782L38 800" stroke-width="6"/>
<path d="M-37 800L-37 823" stroke-width="3.4"/>
<path d="M37 800L37 823" stroke-width="3.4"/>
<path d="M-35 823.4H-45V840H-48.4V906H-45V921.2H-34M35 823.4H45V840H48V906H45V921.2H34" stroke-width="3.6"/>
<path d="M-45 840L-36 840" stroke-width="3"/>
<path d="M36 840L45 840" stroke-width="3"/>
<path d="M-45 906L-31 906" stroke-width="3"/>
<path d="M31 906L45 906" stroke-width="3"/>
<rect x="-35.6" y="819.5" width="71.4" height="69.5" stroke-width="3.8" rx="1.5" fill="#fff"/>
<path d="M-35 831.1L35 831.1" stroke-width="3.6"/>
<path d="M-35 861.9L35 861.9" stroke-width="3.6"/>
<path d="M-35 875.1L35 875.1" stroke-width="3.6"/>
<path d="M-35 885H35.5L32 893.5H-31Z" stroke-width="1.5" fill="#000"/>
<path d="M-26 897L-29 902V926.7M26 897L29.2 902V926.7" stroke-width="3.6"/>
<path d="M-26 898L26 898" stroke-width="3.4"/>
<path d="M-35.6 921.2V934.4H35.8V921.2" stroke-width="3.6"/>
<path d="M-29 927L-5 927" stroke-width="3.2"/>
<path d="M5 927L29 927" stroke-width="3.2"/>
<path d="M-32.3 934V985.5L-28.5 990.4H28.7L32.5 985.5V934" stroke-width="3.8"/>
<path d="M-30 989L30.5 989" stroke-width="4.5"/>
<rect x="49" y="866" width="4.5" height="12" stroke-width="0" rx="1" fill="#000"/>
</g>
<rect x="293.4" y="637" width="875.6" height="11" stroke-width="0" fill="#000"/>
<rect x="1528.1" y="637" width="246.7" height="11" stroke-width="0" fill="#000"/>
<path d="M405 432L405 577" stroke-width="2"/>
<path d="M405 591L405 607" stroke-width="2"/>
<path d="M405 620L405 798" stroke-width="2"/>
<path d="M405 812L405 827" stroke-width="2"/>
<path d="M405 842L405 1000" stroke-width="2"/>
<path d="M1055 432L1055 577" stroke-width="2"/>
<path d="M1055 591L1055 607" stroke-width="2"/>
<path d="M1055 620L1055 798" stroke-width="2"/>
<path d="M1055 812L1055 827" stroke-width="2"/>
<path d="M1055 842L1055 1000" stroke-width="2"/>
<path d="M730 376L730 784" stroke-width="2"/>
<path d="M730 798L730 813" stroke-width="2"/>
<path d="M730 826L730 1000" stroke-width="2"/>
<path d="M1652 176L1652 560" stroke-width="2"/>
<path d="M1652 574L1652 591" stroke-width="2"/>
<path d="M1652 604L1652 748" stroke-width="2"/>
<path d="M1652 796L1652 812" stroke-width="2"/>
<path d="M1652 826L1652 1009" stroke-width="2"/>
</svg></body></html>
